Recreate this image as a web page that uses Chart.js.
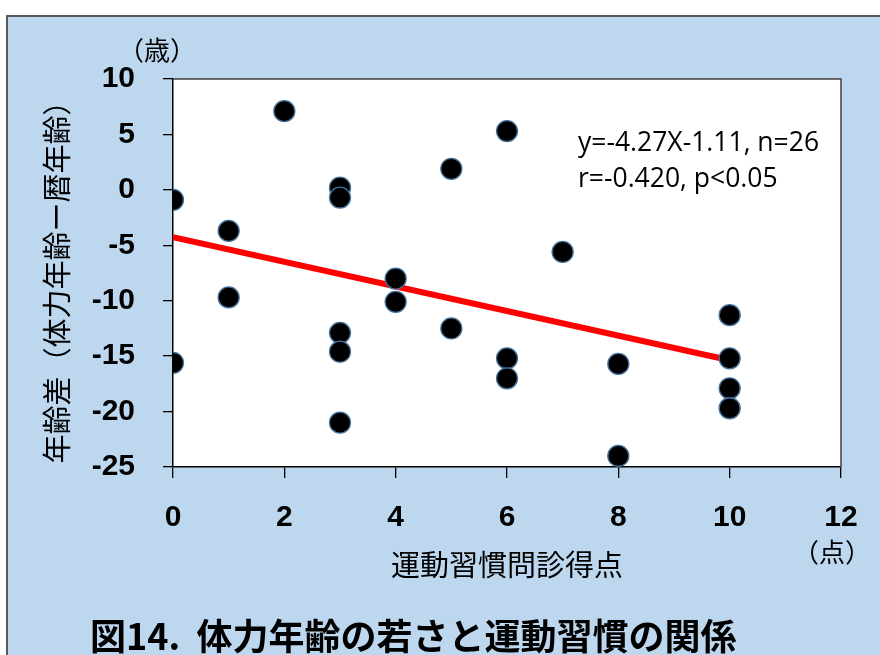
<!DOCTYPE html>
<html lang="ja">
<head>
<meta charset="utf-8">
<title>体力年齢の若さと運動習慣の関係</title>
<script src="https://cdn.jsdelivr.net/npm/chart.js@4/dist/chart.umd.min.js"></script>
<style>
  html, body { margin: 0; padding: 0; background: #ffffff; }
  canvas { display: block; }
</style>
</head>
<body>
<canvas id="chart" width="880" height="655"></canvas>
<script>
// 運動習慣問診得点（点）
const habitScores = [0, 0, 1, 1, 2, 3, 3, 3, 3, 3, 4, 4, 5, 5, 6, 6, 6, 7, 8, 8, 10, 10, 10, 10];
// 年齢差（体力年齢ー暦年齢）（歳）
const ageGaps = [-0.9, -15.6, -3.7, -9.7, 7.1, 0.2, -0.7, -12.9, -14.6, -21.0, -8.0, -10.1, 1.9, -12.5, 5.3, -15.2, -17.0, -5.6, -15.7, -24.0, -11.3, -15.2, -17.9, -19.7];

// 回帰直線
const fitIntercept = -4.27;
const fitSlope = -1.11;
const fitRange = [0, 10];

// 軸の目盛り
const xTicks = [0, 2, 4, 6, 8, 10, 12];
const yTicks = [10, 5, 0, -5, -10, -15, -20, -25];

const statLines = ['y=-4.27X-1.11, n=26', 'r=-0.420, p<0.05'];
const yTitle = '年齢差（体力年齢ー暦年齢）';
const xTitle = '運動習慣問診得点';
const yUnit = '（歳）';
const xUnit = '（点）';
const figureTitle = '図14.  体力年齢の若さと運動習慣の関係';

const points = habitScores.map((x, i) => ({ x: x, y: ageGaps[i] }));
const fitLine = fitRange.map(x => ({ x: x, y: fitIntercept + fitSlope * x }));

const JP = '"Noto Sans CJK JP", "Noto Sans", sans-serif';
const NUM = '"Liberation Sans", Arial, sans-serif';
const TEXT = '"Open Sans", "Liberation Sans", sans-serif';

const frame = {
  id: 'frame',
  beforeDraw(chart) {
    const c = chart.ctx;
    const a = chart.chartArea;
    c.save();
    c.fillStyle = '#ffffff';
    c.fillRect(0, 0, chart.width, chart.height);
    c.fillStyle = '#BDD7EE';
    c.fillRect(7, 15, chart.width - 7, chart.height - 15);
    c.strokeStyle = '#595959';
    c.lineWidth = 2;
    c.beginPath();
    c.moveTo(7, chart.height);
    c.lineTo(7, 16);
    c.lineTo(chart.width, 16);
    c.stroke();
    c.fillStyle = '#ffffff';
    c.fillRect(a.left, a.top, a.right - a.left, a.bottom - a.top);
    c.restore();
  },
  afterDraw(chart) {
    const c = chart.ctx;
    const a = chart.chartArea;
    c.save();
    // 枠線（上・右）
    c.strokeStyle = '#404040';
    c.lineWidth = 1.5;
    c.beginPath();
    c.moveTo(a.left, a.top);
    c.lineTo(a.right, a.top);
    c.lineTo(a.right, a.bottom);
    c.stroke();

    c.fillStyle = '#000000';
    c.textBaseline = 'middle';

    // 回帰式と相関
    c.font = '26.5px ' + TEXT;
    c.textAlign = 'left';
    c.fillText(statLines[0], 578, 143);
    c.fillText(statLines[1], 578, 179);

    // 単位
    c.font = '26px ' + JP;
    c.textAlign = 'center';
    c.fillText(yUnit, 157, 50);
    c.fillText(xUnit, 832, 552);

    // 軸タイトル
    c.font = '29px ' + JP;
    c.fillText(xTitle, 507, 565);
    c.save();
    c.translate(57, 275);
    c.rotate(-Math.PI / 2);
    c.fillText(yTitle, 0, 0);
    c.restore();

    // 図タイトル
    c.font = 'bold 36px ' + JP;
    c.textAlign = 'left';
    c.fillText(figureTitle, 90, 636);
    c.restore();
  }
};

new Chart(document.getElementById('chart'), {
  type: 'scatter',
  data: {
    datasets: [
      {
        label: '対象者',
        data: points,
        backgroundColor: '#000000',
        borderColor: '#41719C',
        borderWidth: 1.3,
        pointRadius: 10.5,
        pointHoverRadius: 10.5,
        order: 0
      },
      {
        type: 'line',
        label: '回帰直線',
        data: fitLine,
        borderColor: '#FF0000',
        borderWidth: 6,
        pointRadius: 0,
        fill: false,
        order: 1
      }
    ]
  },
  options: {
    responsive: false,
    animation: false,
    devicePixelRatio: 1,
    layout: { padding: { top: 79, right: 39, left: 0, bottom: 0 } },
    plugins: { legend: { display: false }, tooltip: { enabled: false } },
    scales: {
      x: {
        type: 'linear',
        min: 0,
        max: 12,
        afterBuildTicks(s) { s.ticks = xTicks.map(v => ({ value: v })); },
        afterFit(s) { s.height = 188; },
        ticks: {
          color: '#000000',
          font: { family: NUM, size: 30, weight: 'bold' },
          padding: 22,
          maxRotation: 0
        },
        grid: { drawOnChartArea: false, drawTicks: true, tickLength: 11, color: '#000000', lineWidth: 1.3 },
        border: { display: true, color: '#000000', width: 1.5 }
      },
      y: {
        type: 'linear',
        min: -25,
        max: 10,
        afterBuildTicks(s) { s.ticks = yTicks.map(v => ({ value: v })); },
        afterFit(s) { s.width = 173; },
        ticks: {
          color: '#000000',
          font: { family: NUM, size: 30, weight: 'bold' },
          padding: 28
        },
        grid: { drawOnChartArea: false, drawTicks: true, tickLength: 10, color: '#000000', lineWidth: 1.3 },
        border: { display: true, color: '#000000', width: 1.5 }
      }
    }
  },
  plugins: [frame]
});
</script>
</body>
</html>
